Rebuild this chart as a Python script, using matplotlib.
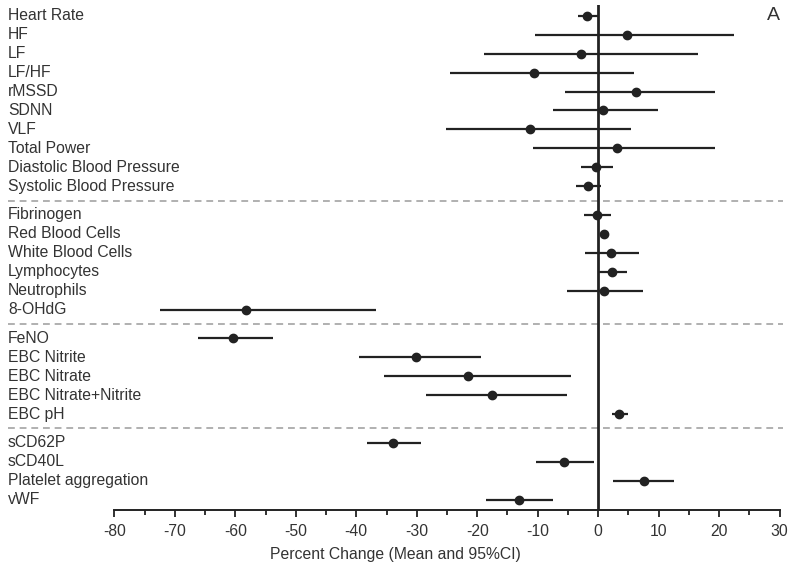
import numpy as np
import matplotlib
matplotlib.use("Agg")
from matplotlib import pyplot as plt

plt.rcParams['font.family'] = ['Liberation Sans', 'DejaVu Sans']
plt.rcParams['axes.unicode_minus'] = False

# ---------------------------------------------------------------------------
# data: percent change, mean and 95% CI, grouped as in the figure
groups = [
    ["Heart Rate", "HF", "LF", "LF/HF", "rMSSD", "SDNN", "VLF", "Total Power",
     "Diastolic Blood Pressure", "Systolic Blood Pressure"],
    ["Fibrinogen", "Red Blood Cells", "White Blood Cells", "Lymphocytes",
     "Neutrophils", "8-OHdG"],
    ["FeNO", "EBC Nitrite", "EBC Nitrate", "EBC Nitrate+Nitrite", "EBC pH"],
    ["sCD62P", "sCD40L", "Platelet aggregation", "vWF"],
]
means = [-1.8, 4.7, -2.9, -10.6, 6.2, 0.8, -11.2, 3.1, -0.3, -1.7,
         -0.2, 0.9, 2.2, 2.3, 1.0, -58.3,
         -60.4, -30.1, -21.5, -17.6, 3.5,
         -33.9, -5.7, 7.5, -13.1]
ci_low = [-3.3, -10.5, -18.9, -24.5, -5.5, -7.4, -25.1, -10.8, -2.9, -3.7,
          -2.4, 0.5, -2.1, 0.2, -5.2, -72.4,
          -66.1, -39.5, -35.5, -28.4, 2.3,
          -38.3, -10.3, 2.4, -18.5]
ci_high = [0.0, 22.4, 16.5, 5.9, 19.4, 9.9, 5.4, 19.4, 2.5, 0.5,
           2.2, 1.3, 6.7, 4.7, 7.4, -36.7,
           -53.7, -19.3, -4.5, -5.1, 4.9,
           -29.3, -0.7, 12.6, -7.4]

# ---------------------------------------------------------------------------
# row positions, with a gap between groups
labels = []
ypos = []
separators = []
y = 0.0
for gi, g in enumerate(groups):
    for name in g:
        labels.append(name)
        ypos.append(y)
        y += 1
    if gi < len(groups) - 1:
        separators.append(y - 1 + 0.75)
        y += 0.5

fig = plt.figure(figsize=(8, 5.73), dpi=100)
ax = fig.add_axes([0.01, 0.110, 0.969, 0.881])

dark = '#222222'
txt = '#333333'

for s in separators:
    ax.axhline(s, color='#b0b0b0', lw=1.4, dashes=(3.5, 2.5), zorder=1)

ax.axvline(0, color=dark, lw=2.0, zorder=2)

ax.hlines(ypos, ci_low, ci_high, color=dark, lw=1.6, zorder=3)
ax.plot(means, ypos, 'o', color=dark, ms=6, zorder=4)

for name, yy in zip(labels, ypos):
    ax.text(-97.6, yy, name, ha='left', va='center', fontsize=11.3, color=txt)

ax.text(30, 0, 'A', ha='right', va='center', fontsize=14, color=txt)

ax.set_xlim(-97.6, 30.6)
ax.set_ylim(26.05, -0.55)
for side in ['left', 'right', 'top']:
    ax.spines[side].set_visible(False)
ax.spines['bottom'].set_bounds(-80, 30)
ax.spines['bottom'].set_linewidth(1.4)
ax.spines['bottom'].set_color(dark)
ax.set_yticks([])
ax.set_xticks(np.arange(-80, 31, 10))
ax.set_xticks(np.arange(-75, 30, 10), minor=True)
ax.tick_params(axis='x', which='major', length=5, width=1.3, color=dark,
               labelsize=11.3, labelcolor=txt, pad=5)
ax.tick_params(axis='x', which='minor', length=3.5, width=1.3, color=dark)
ax.set_xlabel('Percent Change (Mean and 95%CI)', fontsize=11.3, color=txt, labelpad=6)

fig.savefig('out.png', dpi=100)
